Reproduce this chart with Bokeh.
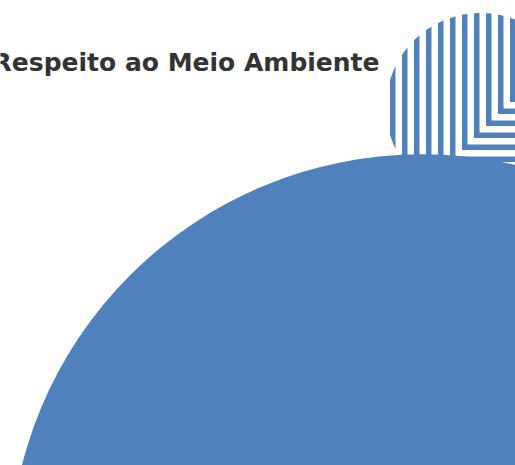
import numpy as np
from bokeh.plotting import figure
from bokeh.models import Range1d
from bokeh.core.properties import value
from bokeh.embed import file_html
from bokeh.resources import INLINE

# ---- data ----
labels = ["Respeito ao Meio Ambiente"]
label_x = [379]
label_y = [62]

big_x = [421.6]
big_y = [566.8]
big_r = [413.0]

small_x = [480.0]
small_y = [107.0]
small_r = [94.5]

stripe_left = [389.5, 401.5, 413.5, 425.5, 437.5, 449.5, 461.5, 473.5,
               485.5, 497.5, 509.5, 521.5, 533.5, 545.5, 557.5, 569.5,
               581.5, 593.5, 605.5]
stripe_w = 5.5
corner_sum = 611.0

BLUE = "#4F81BD"

# circle polygon for clipping
th = np.linspace(0, 2 * np.pi, 241)[:-1]
clip_poly = list(zip(small_x[0] + small_r[0] * np.cos(th),
                     small_y[0] + small_r[0] * np.sin(th)))


def clip(subject, clipper):
    def inside(p, a, b):
        return (b[0] - a[0]) * (p[1] - a[1]) - (b[1] - a[1]) * (p[0] - a[0]) >= 0

    def inter(p1, p2, a, b):
        x1, y1 = p1; x2, y2 = p2; x3, y3 = a; x4, y4 = b
        d = (x1 - x2) * (y3 - y4) - (y1 - y2) * (x3 - x4)
        if abs(d) < 1e-12:
            return p2
        t = ((x1 - x3) * (y3 - y4) - (y1 - y3) * (x3 - x4)) / d
        return (x1 + t * (x2 - x1), y1 + t * (y2 - y1))

    out = subject
    n = len(clipper)
    for i in range(n):
        a = clipper[i]; b = clipper[(i + 1) % n]
        inp = out
        out = []
        if not inp:
            break
        s = inp[-1]
        for e in inp:
            if inside(e, a, b):
                if not inside(s, a, b):
                    out.append(inter(s, e, a, b))
                out.append(e)
            elif inside(s, a, b):
                out.append(inter(s, e, a, b))
            s = e
    return out


area = sum(clip_poly[i][0] * clip_poly[(i + 1) % len(clip_poly)][1] -
           clip_poly[(i + 1) % len(clip_poly)][0] * clip_poly[i][1]
           for i in range(len(clip_poly)))
if area < 0:
    clip_poly = clip_poly[::-1]

xs, ys = [], []
top, right = -50.0, 700.0
for a in stripe_left:
    b = corner_sum - a
    rects = [
        [(a, top), (a + stripe_w, top), (a + stripe_w, b), (a, b)],
        [(a, b - stripe_w), (right, b - stripe_w), (right, b), (a, b)],
    ]
    for r in rects:
        pr = clip(r, clip_poly)
        if len(pr) >= 3:
            xs.append([p[0] for p in pr])
            ys.append([p[1] for p in pr])

p = figure(width=515, height=465, output_backend="svg", toolbar_location=None,
           x_range=Range1d(0, 515), y_range=Range1d(465, 0),
           x_axis_location=None, y_axis_location=None, min_border=0)
p.grid.visible = False
p.outline_line_color = None
p.background_fill_color = "white"
p.border_fill_color = "white"

p.patches(xs, ys, fill_color=BLUE, line_color=None)
p.circle(big_x, big_y, radius=big_r, fill_color=BLUE, line_color=None)
p.text(label_x, label_y, text=labels, text_align="right",
       text_baseline="middle", text_font_size="25px",
       text_font_style="bold",
       text_color="#333333", text_font=value("DejaVu Sans"))

open("out.html", "w").write(file_html(p, INLINE))
